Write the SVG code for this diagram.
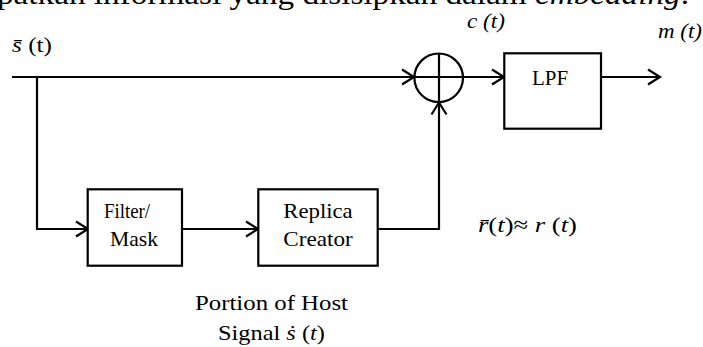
<svg xmlns="http://www.w3.org/2000/svg" width="703" height="347" viewBox="0 0 703 347">
<defs>
<style>
.ln{fill:none;stroke:#000;stroke-width:2.2;stroke-linecap:butt;stroke-linejoin:miter}
.box{fill:#fff;stroke:#000;stroke-width:2.2}
.t{font-family:"Liberation Serif","Times New Roman",serif;fill:#000}
.it{font-style:italic}
</style>
<marker id="arr" markerUnits="userSpaceOnUse" viewBox="-14 -10 16 20" refX="0" refY="0" markerWidth="16" markerHeight="20" orient="auto" overflow="visible">
<path d="M-12,-7.5 L0,0 L-12,7.5" fill="none" stroke="#000" stroke-width="2.2"/>
</marker>
</defs>
<rect width="703" height="347" fill="#fff"/>
<text class="t" x="-3" y="4" font-size="30" textLength="692" lengthAdjust="spacingAndGlyphs">patkan informasi yang disisipkan dalam <tspan class="it">embedding</tspan>.</text>
<g id="connectors">
<path class="ln" d="M12,77 H414" marker-end="url(#arr)"/>
<path class="ln" d="M37,77 V229 H88" marker-end="url(#arr)"/>
<path class="ln" d="M182,229 H258" marker-end="url(#arr)"/>
<path class="ln" d="M378,229 H439 V102.5" marker-end="url(#arr)"/>
<path class="ln" d="M463,77 H504" marker-end="url(#arr)"/>
<path class="ln" d="M601,77 H660" marker-end="url(#arr)"/>
</g>
<g id="sum">
<circle class="ln" cx="438.7" cy="77.8" r="24.3"/>
<path class="ln" d="M414.4,77 H463 M439,53.5 V102"/>
</g>
<g id="lpf">
<rect class="box" x="504.3" y="53.3" width="96.7" height="75.4"/>
<text class="t" x="532" y="85" font-size="21" textLength="36" lengthAdjust="spacingAndGlyphs">LPF</text>
</g>
<g id="filter">
<rect class="box" x="87.7" y="189.3" width="94.3" height="76.4"/>
<text class="t" x="104" y="217.7" font-size="21" textLength="46" lengthAdjust="spacingAndGlyphs">Filter/</text>
<text class="t" x="110" y="246" font-size="21" textLength="48" lengthAdjust="spacingAndGlyphs">Mask</text>
</g>
<g id="replica">
<rect class="box" x="258.3" y="189.3" width="119.4" height="76.4"/>
<text class="t" x="283.3" y="217.7" font-size="21" textLength="69.4" lengthAdjust="spacingAndGlyphs">Replica</text>
<text class="t" x="283.3" y="246" font-size="21" textLength="69.4" lengthAdjust="spacingAndGlyphs">Creator</text>
</g>
<g id="labels">
<text class="t" x="12" y="52" font-size="21" textLength="40" lengthAdjust="spacingAndGlyphs"><tspan class="it">s&#x0304;</tspan> (t)</text>
<text class="t it" x="467" y="28" font-size="21" textLength="38" lengthAdjust="spacingAndGlyphs">c (t)</text>
<text class="t it" x="658" y="38" font-size="21" textLength="44" lengthAdjust="spacingAndGlyphs">m (t)</text>
<text class="t" x="478" y="232" font-size="22" textLength="99" lengthAdjust="spacingAndGlyphs"><tspan class="it">r&#x0304;</tspan>(<tspan class="it">t</tspan>)≈ <tspan class="it">r</tspan> (<tspan class="it">t</tspan>)</text>
<text class="t" x="195" y="310" font-size="21" textLength="153" lengthAdjust="spacingAndGlyphs">Portion of Host</text>
<text class="t" x="218" y="340" font-size="21" textLength="107" lengthAdjust="spacingAndGlyphs">Signal <tspan class="it">&#x1E61;</tspan> (<tspan class="it">t</tspan>)</text>
</g>
</svg>
